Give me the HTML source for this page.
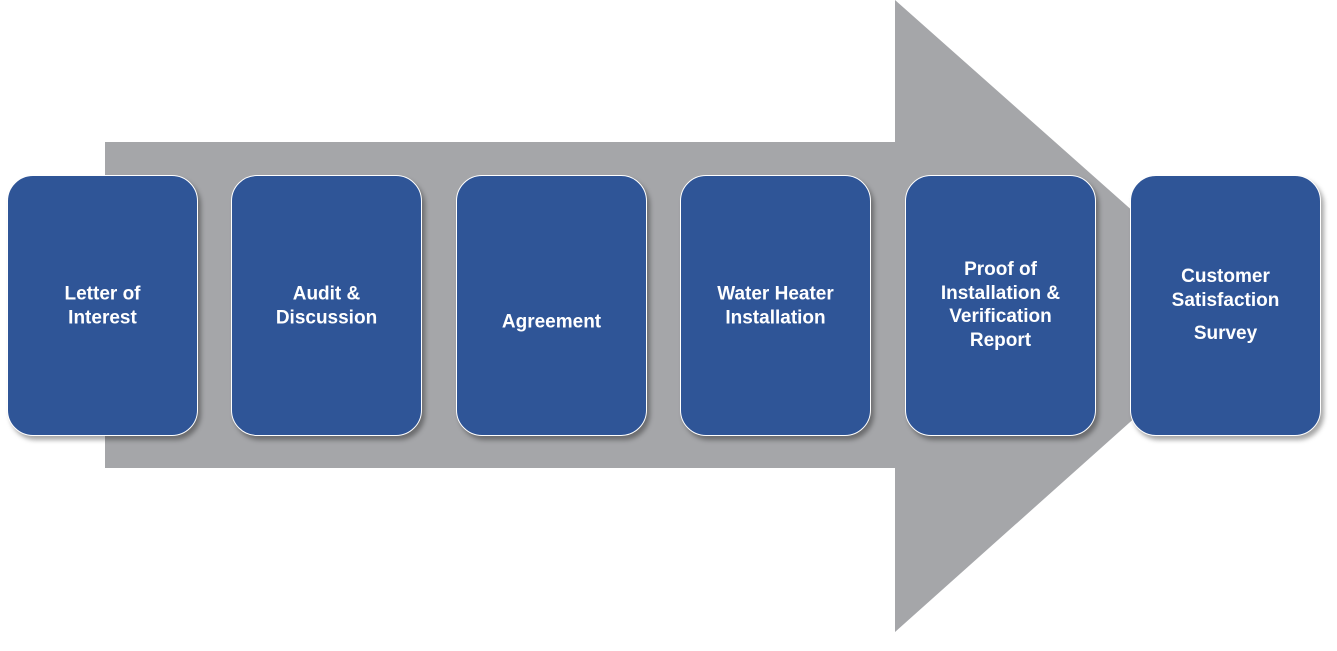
<!DOCTYPE html>
<html><head><style>
body{margin:0;width:1337px;height:651px;background:#fff;position:relative;overflow:hidden;font-family:"Liberation Sans",sans-serif}
.b{position:absolute;top:175px;width:191px;height:261px;background:#2F5597;border:1.5px solid #fff;border-radius:26px;box-sizing:border-box;box-shadow:3px 4px 5px rgba(0,0,0,.35);color:#fff;font-weight:bold;font-size:19px;line-height:23.5px;text-align:center}
.b span{position:absolute;left:0;right:0;transform:translateY(-50%)}
</style></head><body>
<svg width="1337" height="651" style="position:absolute;left:0;top:0">
<polygon points="105,142 895,142 895,0 1250,315 895,632 895,468 105,468" fill="#A5A6A9"/>
</svg>
<div class="b" style="left:7px"><span style="top:130px">Letter of<br>Interest</span></div>
<div class="b" style="left:231px"><span style="top:130px">Audit &amp;<br>Discussion</span></div>
<div class="b" style="left:456px"><span style="top:146px">Agreement</span></div>
<div class="b" style="left:680px"><span style="top:130px">Water Heater<br>Installation</span></div>
<div class="b" style="left:905px"><span style="top:129px">Proof of<br>Installation &amp;<br>Verification<br>Report</span></div>
<div class="b" style="left:1130px"><span style="top:89px;transform:none">Customer<br>Satisfaction</span><span style="top:146px;transform:none">Survey</span></div>
</body></html>
